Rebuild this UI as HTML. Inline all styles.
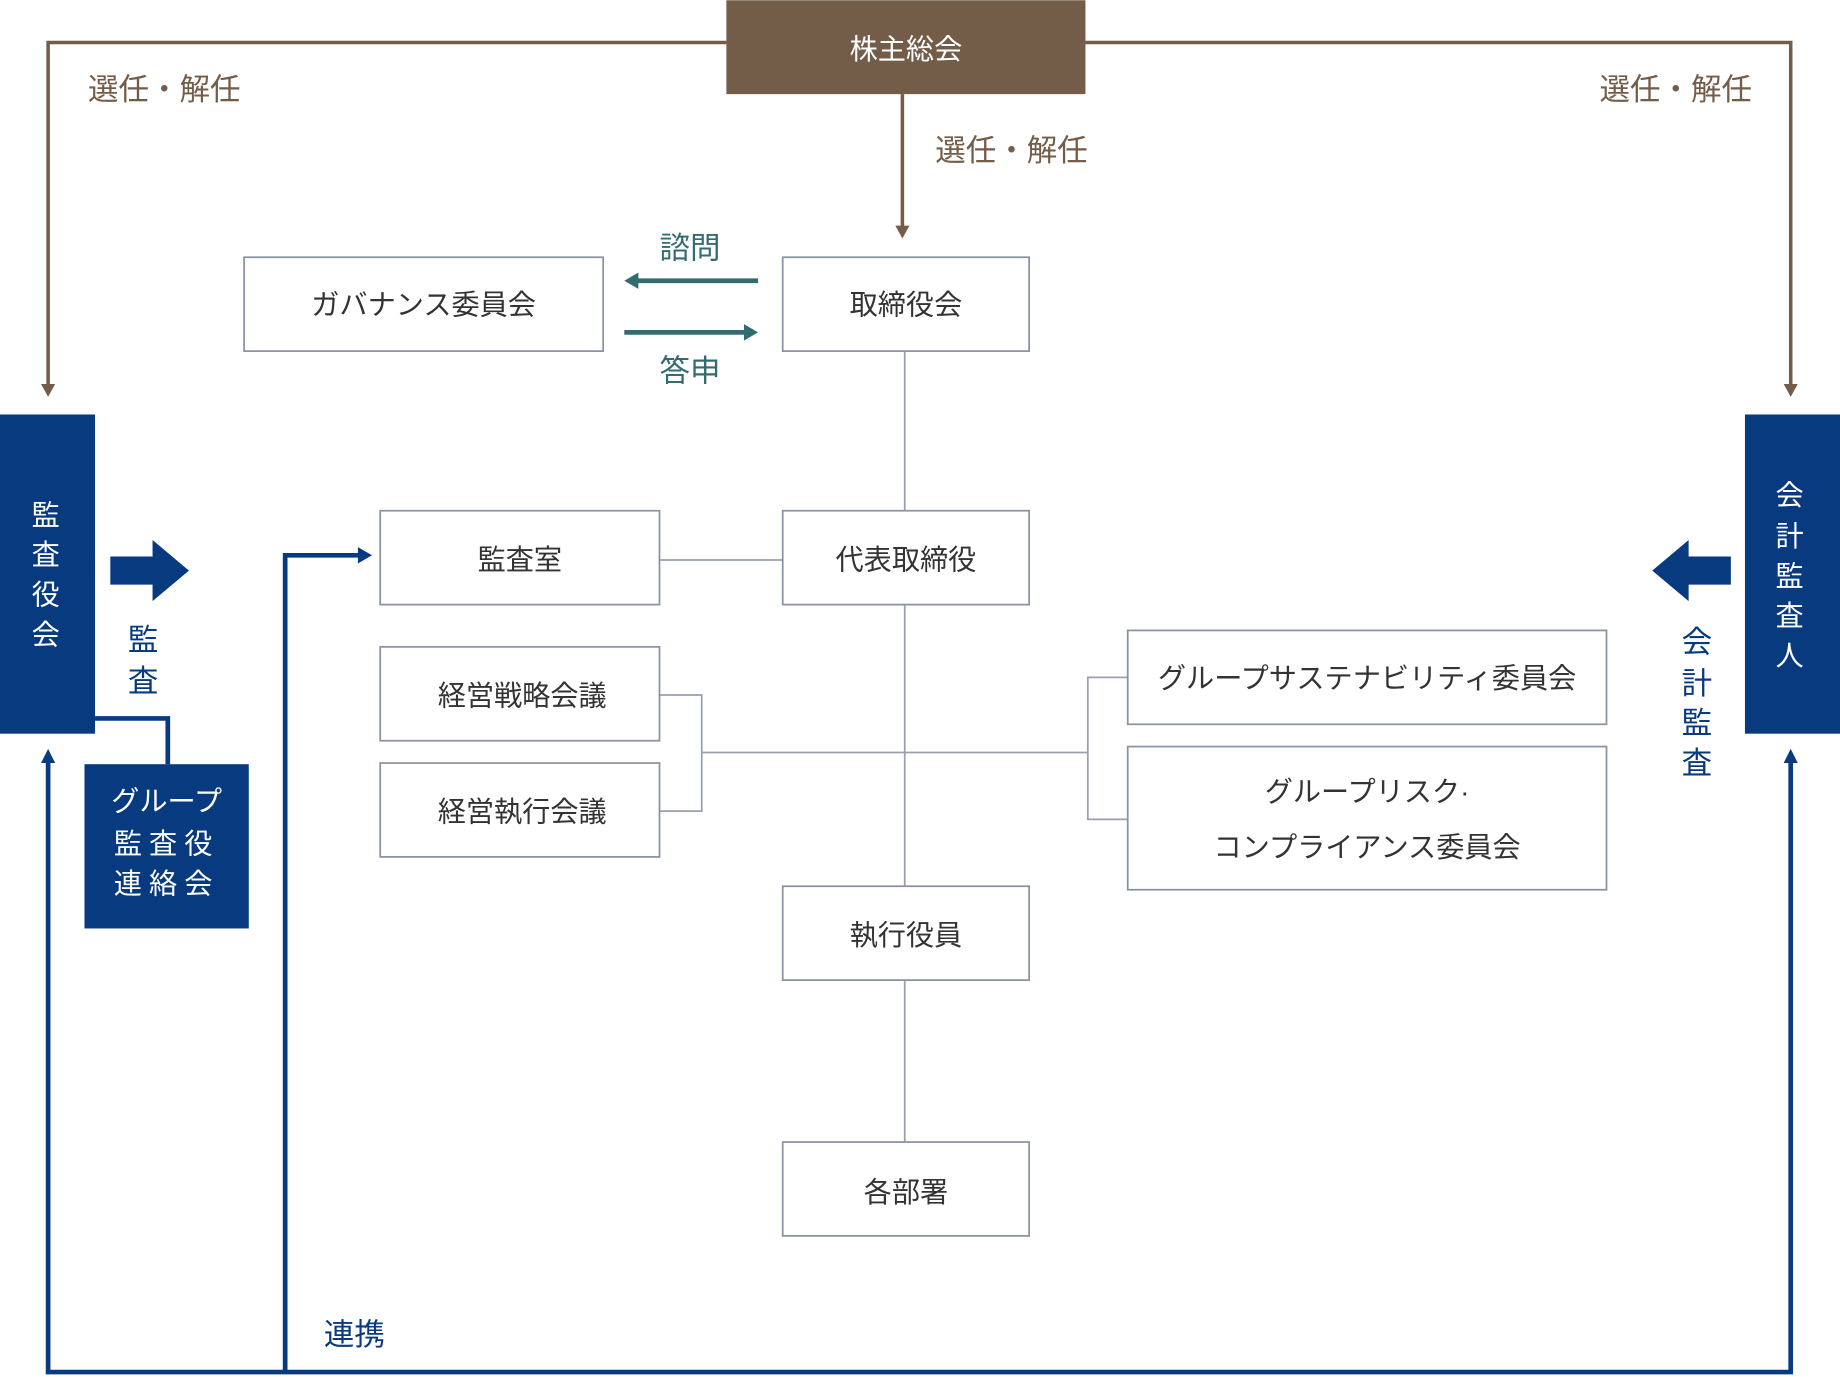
<!DOCTYPE html>
<html><head><meta charset="utf-8"><style>
html,body{margin:0;padding:0;background:#fff;}
svg{display:block;}
text{font-family:"Liberation Sans","Noto Sans CJK JP",sans-serif;}
</style></head><body>
<svg width="1840" height="1377" viewBox="0 0 1568 1173" xmlns="http://www.w3.org/2000/svg">
<defs>
<marker id="ab" markerWidth="10" markerHeight="10" refX="5" refY="5" orient="auto" markerUnits="userSpaceOnUse"><path d="M0,0 L10,5 L0,10 z" fill="#735c48"/></marker>
</defs>
<!-- brown lines -->
<g stroke="#735c48" stroke-width="3" fill="none">
<polyline points="619,36 41,36 41,328"/>
<polyline points="925,36 1526,36 1526,328"/>
<line x1="769" y1="80" x2="769" y2="193"/>
</g>
<g fill="#735c48">
<path d="M35,327 L47,327 L41,338 z"/>
<path d="M1520,327 L1532,327 L1526,338 z"/>
<path d="M763,192 L775,192 L769,203 z"/>
</g>
<rect x="619" y="0" width="306" height="80" fill="#735c48"/>
<text x="772" y="50" font-size="24" fill="#fff" text-anchor="middle">株主総会</text>
<g font-size="26" fill="#735c48" text-anchor="middle">
<text x="140" y="85">選任・解任</text>
<text x="1428" y="85">選任・解任</text>
<text x="862" y="137">選任・解任</text>
</g>
<!-- gray lines -->
<g stroke="#9aa1ac" stroke-width="1.5" fill="none">
<line x1="771" y1="299" x2="771" y2="435"/>
<line x1="562" y1="477" x2="667" y2="477"/>
<line x1="771" y1="515" x2="771" y2="755"/>
<polyline points="562,592 598,592 598,691 562,691"/>
<line x1="598" y1="641" x2="927" y2="641"/>
<polyline points="961,577 927,577 927,698 961,698"/>
<line x1="771" y1="835" x2="771" y2="973"/>
</g>
<!-- boxes -->
<g fill="#fff" stroke="#8a93a3" stroke-width="1.5">
<rect x="208" y="219" width="306" height="80"/>
<rect x="667" y="219" width="210" height="80"/>
<rect x="324" y="435" width="238" height="80"/>
<rect x="667" y="435" width="210" height="80"/>
<rect x="324" y="551" width="238" height="80"/>
<rect x="324" y="650" width="238" height="80"/>
<rect x="961" y="537" width="408" height="80"/>
<rect x="961" y="636" width="408" height="122"/>
<rect x="667" y="755" width="210" height="80"/>
<rect x="667" y="973" width="210" height="80"/>
</g>
<g font-size="24" fill="#333" text-anchor="middle">
<text x="361" y="268">ガバナンス委員会</text>
<text x="772" y="268">取締役会</text>
<text x="443" y="485">監査室</text>
<text x="772" y="485">代表取締役</text>
<text x="445" y="601">経営戦略会議</text>
<text x="445" y="700">経営執行会議</text>
<text x="1165" y="586">グループサステナビリティ委員会</text>
<text x="1165" y="683">グループリスク·</text>
<text x="1165" y="730">コンプライアンス委員会</text>
<text x="772" y="805">執行役員</text>
<text x="772" y="1024">各部署</text>
</g>
<!-- teal arrows -->
<g stroke="#336c70" stroke-width="4">
<line x1="542" y1="239" x2="646" y2="239"/>
<line x1="532" y1="283" x2="636" y2="283"/>
</g>
<g fill="#336c70">
<path d="M532,239 L544,232 L544,246 z"/>
<path d="M646,283 L634,276 L634,290 z"/>
</g>
<g font-size="26" fill="#336c70" text-anchor="middle">
<text x="588" y="220">諮問</text>
<text x="588" y="325">答申</text>
</g>
<!-- navy lines -->
<g stroke="#083a80" stroke-width="4" fill="none">
<polyline points="41,648 41,1169 1526,1169 1526,648"/>
<polyline points="243,1169 243,473 308,473"/>
<polyline points="81,612 143,612 143,651"/>
</g>
<g fill="#083a80">
<path d="M35,650 L47,650 L41,638 z"/>
<path d="M1520,650 L1532,650 L1526,638 z"/>
<path d="M317,473 L305,466 L305,480 z"/>
<rect x="0" y="353" width="81" height="272"/>
<rect x="1487" y="353" width="81" height="272"/>
<rect x="72" y="651" width="140" height="140"/>
<path d="M94,474 L130,474 L130,460 L161,486 L130,512 L130,498 L94,498 z"/>
<path d="M1475,474 L1439,474 L1439,460 L1408,486 L1439,512 L1439,498 L1475,498 z"/>
</g>
<g font-size="24" fill="#fff" text-anchor="middle">
<text x="39" y="447">監</text><text x="39" y="481">査</text><text x="39" y="515">役</text><text x="39" y="549">会</text>
<text x="1525" y="430">会</text><text x="1525" y="465">計</text><text x="1525" y="499">監</text><text x="1525" y="533">査</text><text x="1525" y="567">人</text>
<text x="142" y="691">グループ</text>
<text x="142" y="727" letter-spacing="6">監査役</text>
<text x="142" y="761" letter-spacing="6">連絡会</text>
</g>
<g font-size="26" fill="#083a80" text-anchor="middle">
<text x="122" y="554">監</text><text x="122" y="589">査</text>
<text x="1446" y="556">会</text><text x="1446" y="591">計</text><text x="1446" y="625">監</text><text x="1446" y="659">査</text>
<text x="302" y="1146">連携</text>
</g>
</svg>
</body></html>
